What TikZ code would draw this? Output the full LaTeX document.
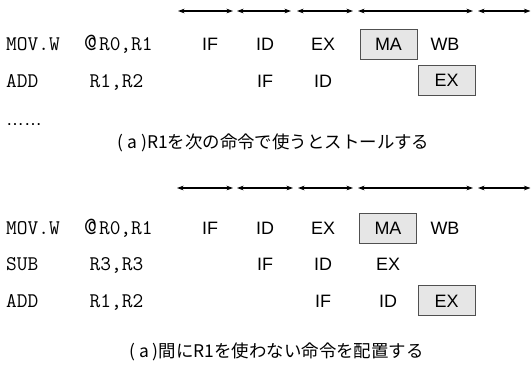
\documentclass[tikz,border=0pt]{standalone}
\usepackage{fontspec}
\setmainfont{Liberation Sans}
\newfontfamily\monof{Latin Modern Mono}
\newfontfamily\cjk{Noto Sans CJK JP}
\usetikzlibrary{arrows.meta}
\definecolor{boxfill}{HTML}{E6E6E6}
\definecolor{boxline}{HTML}{505050}
\begin{document}
\begin{tikzpicture}[x=1bp,y=-1bp,
  stage/.style={font=\fontsize{18}{18}\selectfont, inner sep=0pt, anchor=base},
  instr/.style={font=\monof\fontsize{20.9}{20.9}\selectfont, inner sep=0pt, anchor=base west},
  hlbox/.style={draw=boxline, fill=boxfill, line width=0.8bp, minimum width=57bp, minimum height=30bp,
     inner sep=0pt, text height=12.9bp, text depth=0pt, font=\fontsize{18}{18}\selectfont, anchor=center},
  caption/.style={font=\cjk\fontsize{17.5}{17.5}\selectfont, inner sep=0pt, anchor=center},
  span/.style={line width=1.1bp, {Stealth[length=6.5bp,width=4.6bp]}-{Stealth[length=6.5bp,width=4.6bp]}}
]
\useasboundingbox (0,0) rectangle (531,365);

% ---------- top (stall) ----------
\coordinate (ta0) at (178,11); \coordinate (ta1) at (233,11);
\coordinate (tb0) at (237,11); \coordinate (tb1) at (291,11);
\coordinate (tc0) at (297,11); \coordinate (tc1) at (353,11);
\coordinate (td0) at (358,11); \coordinate (td1) at (473,11);
\coordinate (te0) at (478,11); \coordinate (te1) at (530.5,11);
\draw[span] (ta0) -- (ta1);
\draw[span] (tb0) -- (tb1);
\draw[span] (tc0) -- (tc1);
\draw[span] (td0) -- (td1);
\draw[span] (te0) -- (te1);

\node[instr] (t1op) at (6,50.7) {MOV.W};
\node[instr] (t1arg) at (84,50.7) {{\fontsize{25}{25}\selectfont @}\kern2bp R0,R1};
\node[stage] (t1if) at (210,50.7) {IF};
\node[stage] (t1id) at (265,50.7) {ID};
\node[stage] (t1ex) at (323,50.7) {EX};
\node[hlbox] (t1ma) at (388.5,44.2) {MA};
\node[stage] (t1wb) at (445,50.7) {WB};

\node[instr] (t2op) at (6,87) {ADD};
\node[instr] (t2arg) at (89.5,87) {R1,R2};
\node[stage] (t2if) at (265,87) {IF};
\node[stage] (t2id) at (323,87) {ID};
\node[hlbox] (t2ex) at (446.5,80.5) {EX};

\node[stage, anchor=base west] (tdots) at (6,125) {……};
\node[caption] (tcap) at (273.5,143) {( a )R1を次の命令で使うとストールする};

% ---------- bottom (reordered) ----------
\coordinate (ba0) at (177,188); \coordinate (ba1) at (233,188);
\coordinate (bb0) at (237,188); \coordinate (bb1) at (293,188);
\coordinate (bc0) at (298,188); \coordinate (bc1) at (353,188);
\coordinate (bd0) at (358,188); \coordinate (bd1) at (473,188);
\coordinate (be0) at (478,188); \coordinate (be1) at (530.5,188);
\draw[span] (ba0) -- (ba1);
\draw[span] (bb0) -- (bb1);
\draw[span] (bc0) -- (bc1);
\draw[span] (bd0) -- (bd1);
\draw[span] (be0) -- (be1);

\node[instr] (b1op) at (6,234.5) {MOV.W};
\node[instr] (b1arg) at (84,234.5) {{\fontsize{25}{25}\selectfont @}\kern2bp R0,R1};
\node[stage] (b1if) at (210,234.5) {IF};
\node[stage] (b1id) at (265,234.5) {ID};
\node[stage] (b1ex) at (323,234.5) {EX};
\node[hlbox] (b1ma) at (388,228) {MA};
\node[stage] (b1wb) at (445,234.5) {WB};

\node[instr] (b2op) at (6,270.8) {SUB};
\node[instr] (b2arg) at (89.5,270.8) {R3,R3};
\node[stage] (b2if) at (265,270.8) {IF};
\node[stage] (b2id) at (323,270.8) {ID};
\node[stage] (b2ex) at (388,270.8) {EX};

\node[instr] (b3op) at (6,307.1) {ADD};
\node[instr] (b3arg) at (89.5,307.1) {R1,R2};
\node[stage] (b3if) at (323,307.1) {IF};
\node[stage] (b3id) at (388,307.1) {ID};
\node[hlbox] (b3ex) at (446.5,300.6) {EX};

\node[caption] (bcap) at (276.5,352) {( a )間にR1を使わない命令を配置する};
\end{tikzpicture}
\end{document}
